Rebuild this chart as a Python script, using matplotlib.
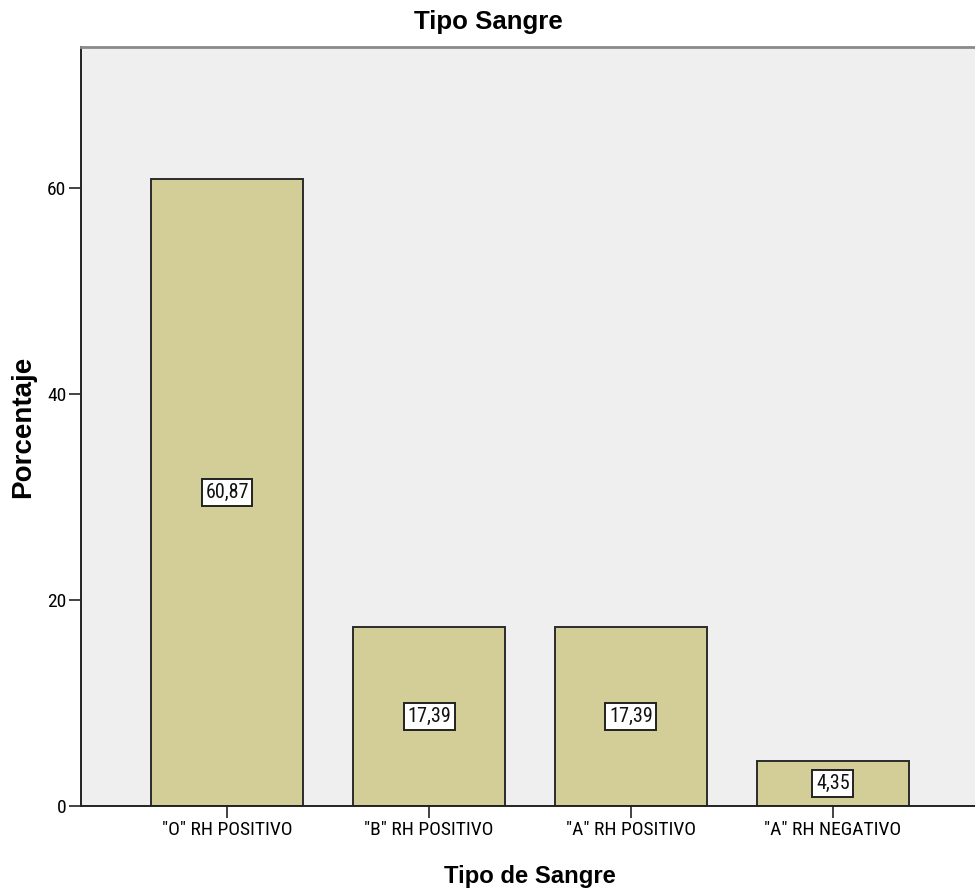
import matplotlib
matplotlib.use("Agg")
import matplotlib.pyplot as plt
from matplotlib import font_manager
from matplotlib.font_manager import FontProperties

categories = ['"O" RH POSITIVO', '"B" RH POSITIVO', '"A" RH POSITIVO', '"A" RH NEGATIVO']
percentages = [60.87, 17.39, 17.39, 4.35]
y_ticks = [0, 20, 40, 60]


def find_narrow_font():
    """Return (path, scale) for a condensed sans font, or (None, scale) for a fallback."""
    entries = font_manager.fontManager.ttflist
    prefs = ["liberation sans narrow", "arial narrow", "roboto condensed",
             "open sans condensed", "noto sans condensed", "dejavu sans condensed"]
    for pref in prefs:
        for f in entries:
            if f.weight in (400, "normal", "regular") and f.style == "normal":
                label = (f.name + " " + str(f.stretch)).lower()
                base = f.name.lower()
                if base == pref or (pref.endswith("condensed") and base == pref.rsplit(" ", 1)[0]
                                    and "condensed" in str(f.stretch).lower()
                                    and "semi" not in str(f.stretch).lower()
                                    and "extra" not in str(f.stretch).lower()):
                    return f.fname, 1.0
    return None, 0.84


narrow_path, size_scale = find_narrow_font()


def small_font(size):
    if narrow_path:
        return FontProperties(fname=narrow_path, size=size)
    return FontProperties(family=["Liberation Sans", "DejaVu Sans"], size=size * size_scale)


plt.rcParams["font.family"] = ["Liberation Sans", "DejaVu Sans"]

fig = plt.figure(figsize=(9.75, 8.93), dpi=100)
ax = fig.add_axes([81 / 975, 87 / 893, 898 / 975, 759 / 893])
ax.set_facecolor("#efefef")

x = list(range(len(categories)))
ax.bar(x, percentages, width=0.75, color="#d3ce97", edgecolor="#2b2b2b", linewidth=1.4, zorder=2)

for xi, v in zip(x, percentages):
    ax.text(xi, v / 2, f"{v:.2f}".replace(".", ","), ha="center", va="center",
            fontproperties=small_font(14.5), color="#111111", zorder=3,
            bbox=dict(boxstyle="square,pad=0.18", facecolor="white", edgecolor="#222222", linewidth=1.4))

ax.set_xlim(-0.723, 3.723)
ax.set_ylim(0, 73.7)
ax.set_xticks(x)
ax.set_xticklabels(categories)
ax.set_yticks(y_ticks)
ax.set_yticklabels([str(t) for t in y_ticks])
for lbl in ax.get_xticklabels() + ax.get_yticklabels():
    lbl.set_fontproperties(small_font(14))
ax.tick_params(axis="both", direction="out", length=8.5, width=1.2, color="#222222", pad=2)

for side in ("left", "bottom"):
    ax.spines[side].set_color("#222222")
    ax.spines[side].set_linewidth(1.4)
ax.spines["top"].set_color("#8a8a8a")
ax.spines["top"].set_linewidth(2.0)
ax.spines["right"].set_color("#8a8a8a")
ax.spines["right"].set_linewidth(2.0)

fig.text(488 / 975, 1 - 22 / 893, "Tipo Sangre", ha="center", va="center",
         fontsize=18.6, fontweight="bold")
fig.text(530 / 975, 1 - 877 / 893, "Tipo de Sangre", ha="center", va="center",
         fontsize=17.2, fontweight="bold")
fig.text(23 / 975, 1 - 427 / 893, "Porcentaje", ha="center", va="center",
         rotation=90, fontsize=20, fontweight="bold")

fig.savefig("out.png", dpi=100, facecolor="white")
